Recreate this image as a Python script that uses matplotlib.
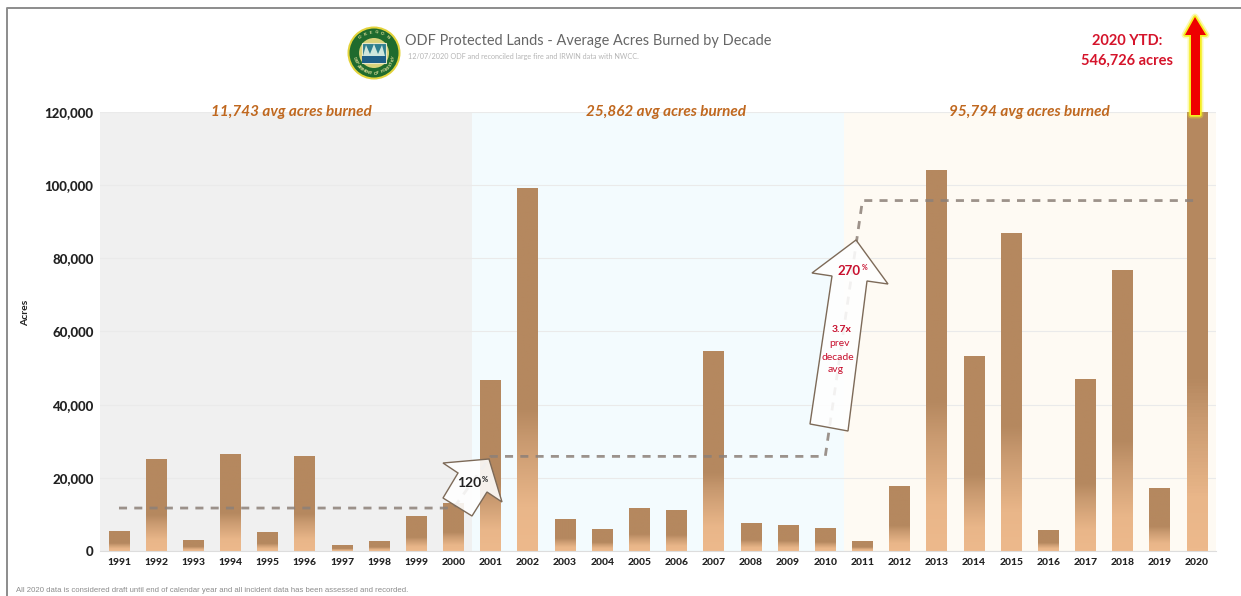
import numpy as np
import matplotlib
matplotlib.use('Agg')
import matplotlib.pyplot as plt
import matplotlib.patches as mpatches
from matplotlib.colors import LinearSegmentedColormap

W, H = 1241, 596

YEARS = [str(y) for y in range(1991, 2021)]
ACRES = [5200, 25100, 3000, 26300, 5100, 25700, 1600, 2700, 9500, 13000,
         46500, 99000, 8600, 5900, 11500, 11200, 54500, 7500, 7000, 6100,
         2700, 17500, 104000, 53200, 86800, 5600, 47000, 76700, 17000, 546726]
DECADE_AVG = [11743] * 10 + [25862] * 10 + [95794] * 10
DECADE_LABELS = ['11,743 avg acres burned', '25,862 avg acres burned',
                 '95,794 avg acres burned']
LABEL_POS = [4.63, 14.72, 24.5]
BAND_COLORS = ['#F0F0F0', '#F3FBFE', '#FEFAF3']
Y_TICKS = [0, 20000, 40000, 60000, 80000, 100000, 120000]
Y_MAX = 120000

plt.rcParams['font.family'] = ['Lato', 'DejaVu Sans']

BAR_CMAP = LinearSegmentedColormap.from_list(
    'bar', [(0, '#EDB98C'), (0.12, '#E9B689'), (0.3, '#C99A70'),
            (0.39, '#B5885F'), (1, '#B5885F')])

fig = plt.figure(figsize=(W / 100, H / 100), dpi=100, facecolor='white')
ax = fig.add_axes([100.4 / W, 1 - 551 / H, 1115.2 / W, 439 / H])

# decade backgrounds
for i, col in enumerate(BAND_COLORS):
    ax.axvspan(i * 10 - 0.5, i * 10 + 9.5, color=col, lw=0, zorder=0)

ax.set_yticks(Y_TICKS)
ax.set_yticklabels([f'{v:,}' for v in Y_TICKS], fontsize=9.5, fontweight='black',
                   color='#222222')
ax.set_xticks(range(len(YEARS)))
ax.set_xticklabels(YEARS, fontsize=7.5, fontweight='black', color='#222222')
ax.tick_params(length=0)
ax.tick_params(axis='x', pad=5)
ax.tick_params(axis='y', pad=5)
ax.grid(axis='y', color='#EAEAEA', lw=0.8, zorder=1)
ax.set_axisbelow(True)
for s in ['top', 'right', 'left']:
    ax.spines[s].set_visible(False)
ax.spines['bottom'].set_color('#DDDDDD')

# gradient bars
grad = np.linspace(1, 0, 128).reshape(-1, 1)
for i, v in enumerate(ACRES):
    ax.imshow(grad, extent=[i - 0.28, i + 0.28, 0, min(v, Y_MAX)], aspect='auto',
              cmap=BAR_CMAP, vmin=0, vmax=1, zorder=2)

ax.plot(range(len(YEARS)), DECADE_AVG, color='#8C8078', lw=2.0, alpha=0.85,
        dashes=(2.9, 2.6), zorder=3)

ax.set_xlim(-0.5, 29.5)
ax.set_ylim(0, Y_MAX)

for pos, lab in zip(LABEL_POS, DECADE_LABELS):
    ax.text(pos, 1.0, lab, transform=ax.get_xaxis_transform(),
            ha='center', va='center', fontsize=11, fontweight='bold', style='italic',
            color='#C0681F', zorder=5)

# overlay in pixel coords for annotations
ov = fig.add_axes([0, 0, 1, 1], facecolor='none')
ov.set_xlim(0, W)
ov.set_ylim(H, 0)
ov.axis('off')
ov.set_zorder(10)

# frame
ov.plot([7, 7, W], [H, 8, 8], color='#8C8C8C', lw=1.4)

ov.text(26, 313, 'Acres', rotation=90, ha='center', va='center', fontsize=7.5,
        fontweight='bold', color='#222222')
ov.text(405, 41, 'ODF Protected Lands - Average Acres Burned by Decade', fontsize=10.45,
        color='#666666', va='center')
ov.text(408, 57, '12/07/2020 ODF and reconciled large fire and IRWIN data with NWCC.',
        fontsize=5.2, color='#B5B5B5', va='center')
ov.text(16, 590, 'All 2020 data is considered draft until end of calendar year and all '
        'incident data has been assessed and recorded.', fontsize=5.6, color='#8C8C8C',
        va='center', family='Liberation Sans')

# logo
cx, cy = 374, 53
ov.add_patch(mpatches.Ellipse((cx, cy), 53, 53, fc='#E3D33B', ec='none'))
ov.add_patch(mpatches.Ellipse((cx, cy), 49, 49, fc='#1F6B2E', ec='none'))
ov.add_patch(mpatches.Ellipse((cx, cy), 30, 30, fc='#D9D27A', ec='none'))
ov.add_patch(mpatches.Rectangle((cx - 12, cy - 10), 24, 20, fc='#2F7F8F', ec='#E8E8C8', lw=0.8))
ov.add_patch(mpatches.Rectangle((cx - 12, cy + 3), 24, 7, fc='#1F5F88', ec='none'))
ov.add_patch(mpatches.Polygon([(cx - 11, cy + 3), (cx - 8, cy - 8), (cx - 4, cy + 1), (cx, cy - 9),
                               (cx + 4, cy + 1), (cx + 8, cy - 8), (cx + 11, cy + 3)],
                              fc='#CFE6DC', ec='none'))
for txt, a0, a1 in [('OREGON', 130, 50), ('DEPARTMENT OF FORESTRY', 195, 345)]:
    for ch, a in zip(txt, np.linspace(a0, a1, len(txt))):
        rad = np.deg2rad(a)
        rot = a - 90 if a <= 180 else a + 90
        ov.text(cx + 20.5 * np.cos(rad), cy - 20.5 * np.sin(rad), ch, fontsize=3.2, color='#EDE7A0',
                ha='center', va='center', rotation=rot, fontweight='bold')

# growth arrows
ARROW_EDGE = '#7D6A58'
arrow_270 = [(856, 240), (888, 284), (867, 281), (848, 431), (810, 424), (832, 276), (812, 273)]
arrow_120 = [(489, 459), (502, 502), (487, 492), (472, 516), (443, 498), (458, 473), (443, 463)]
for pts in (arrow_270, arrow_120):
    ov.add_patch(mpatches.Polygon(pts, closed=True, fc='white', alpha=0.88, ec='none'))
    ov.add_patch(mpatches.Polygon(pts, closed=True, fc='none', ec=ARROW_EDGE, lw=1.0))
ov.text(469, 483, '120', fontsize=10, fontweight='bold', color='#222222', ha='center', va='center')
ov.text(485, 480, '%', fontsize=5.5, fontweight='bold', color='#222222', ha='center', va='center')
ov.text(849, 271, '270', fontsize=9.5, fontweight='bold', color='#C8102E', ha='center', va='center')
ov.text(865, 268, '%', fontsize=5, fontweight='bold', color='#C8102E', ha='center', va='center')
ov.text(842, 329, '3.7x', fontsize=7.5, fontweight='bold', color='#C8102E', ha='center', va='center')
for txt, xx, yy in [('prev', 839, 343), ('decade', 838, 358), ('avg', 836, 370)]:
    ov.text(xx, yy, txt, fontsize=7.5, color='#C8102E', ha='center', va='center')

# 2020 YTD arrow
ytd = [(1195, 17), (1206, 35), (1200, 35), (1200, 115), (1191, 115), (1191, 35), (1185, 35)]
ov.add_patch(mpatches.Polygon(ytd, closed=True, fc='#F5EE20', ec='#F5EE20', lw=5, alpha=0.35, joinstyle='round'))
ov.add_patch(mpatches.Polygon(ytd, closed=True, fc='#F5EE20', ec='#F5EE20', lw=2.5, joinstyle='round'))
ov.add_patch(mpatches.Polygon(ytd, closed=True, fc='#EE0000', ec='none'))
ov.text(1127, 41, '2020 YTD:', fontsize=10.5, fontweight='bold', color='#D5142B', ha='center', va='center')
ov.text(1127, 61, '546,726 acres', fontsize=10.5, fontweight='bold', color='#D5142B', ha='center', va='center')

plt.savefig('out.png', dpi=100)
